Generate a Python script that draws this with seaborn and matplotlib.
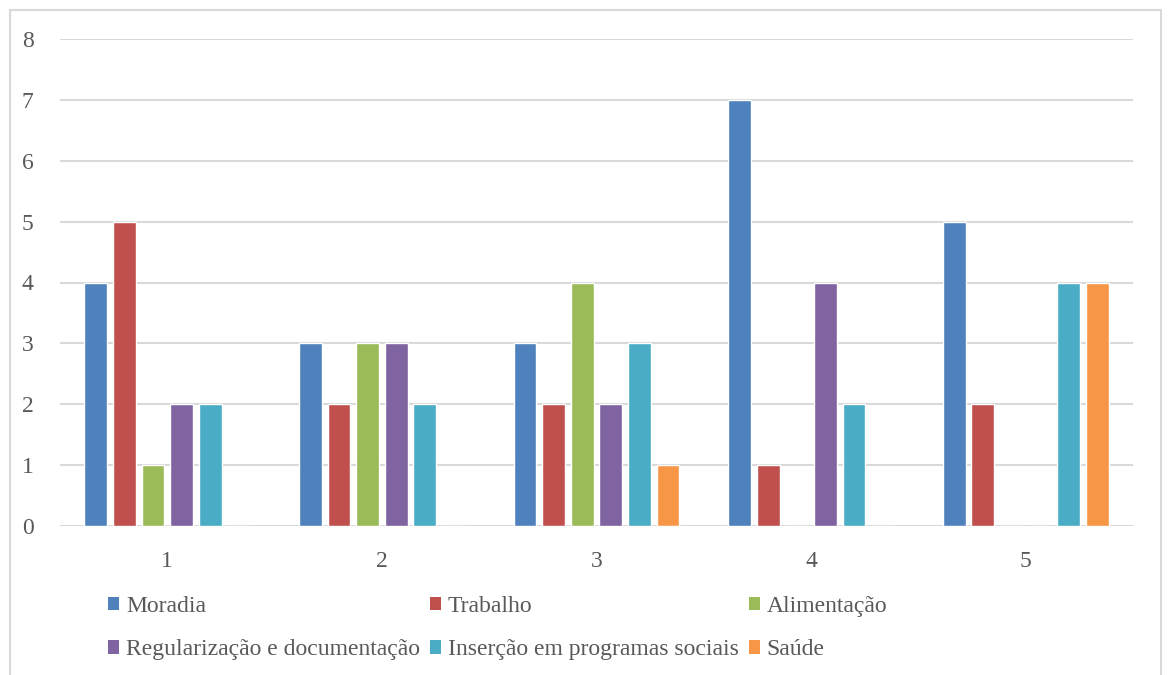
import matplotlib
matplotlib.use("Agg")
import matplotlib.pyplot as plt
import seaborn as sns
import pandas as pd
from matplotlib.patches import Rectangle, Patch

# Categories (groups along the x axis) and series
groups = ["1", "2", "3", "4", "5"]
series = ["Moradia", "Trabalho", "Alimentação",
          "Regularização e documentação", "Inserção em programas sociais", "Saúde"]

moradia = [4, 3, 3, 7, 5]
trabalho = [5, 2, 2, 1, 2]
alimentacao = [1, 3, 4, 0, 0]
regularizacao = [2, 3, 2, 4, 0]
insercao = [2, 2, 3, 2, 4]
saude = [0, 0, 1, 0, 4]

colors = ["#4F81BD", "#C0504D", "#9BBB59", "#8064A2", "#4BACC6", "#F79646"]
y_ticks = list(range(0, 9))

values = [moradia, trabalho, alimentacao, regularizacao, insercao, saude]
rows = []
for name, vals in zip(series, values):
    for g, v in zip(groups, vals):
        rows.append({"grupo": g, "serie": name, "valor": v})
df = pd.DataFrame(rows)

sns.set_theme(style="white")
plt.rcParams["font.family"] = ["Liberation Serif", "DejaVu Serif"]
text_color = "#595959"
grid_color = "#D9D9D9"

fig = plt.figure(figsize=(11.68, 6.75), dpi=100)
ax = fig.add_axes([60 / 1168, 1 - 526 / 675, (1133 - 60) / 1168, (526 - 39) / 675])

sns.barplot(data=df, x="grupo", y="valor", hue="serie", order=groups,
            hue_order=series, palette=colors, width=0.8, gap=0.2,
            saturation=1, legend=False, ax=ax)

ax.set_ylim(0, 8)
ax.set_yticks(y_ticks)
ax.set_xlabel("")
ax.set_ylabel("")
ax.yaxis.grid(True, color=grid_color, linewidth=1.5)
ax.set_axisbelow(True)
for s in ax.spines.values():
    s.set_visible(False)
ax.tick_params(axis="both", length=0, labelsize=17, colors=text_color)
ax.tick_params(axis="y", pad=19)
ax.tick_params(axis="x", pad=18)

# Legend, filled row by row in three columns
handles = [Patch(facecolor=c, edgecolor="none") for c in colors]
order = [0, 3, 1, 4, 2, 5]
leg = fig.legend([handles[i] for i in order], [series[i] for i in order],
                 ncol=3, loc="upper left", bbox_to_anchor=(108 / 1168, 1 - 596 / 675),
                 frameon=False, fontsize=17, handlelength=0.48, handleheight=0.48,
                 handletextpad=0.28, columnspacing=0.42, labelspacing=0.95,
                 borderaxespad=0, borderpad=0)
for t in leg.get_texts():
    t.set_color(text_color)

# Chart area outline
fig.patches.append(Rectangle((9.5 / 1168, -0.05), (1161 - 9.5) / 1168, 1.05 - 9.5 / 675,
                             transform=fig.transFigure, fill=False,
                             edgecolor=grid_color, linewidth=1.5))

fig.savefig("out.png", dpi=100)
